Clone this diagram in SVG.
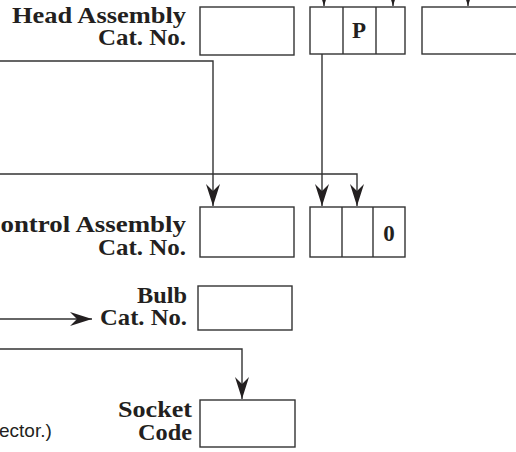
<svg xmlns="http://www.w3.org/2000/svg" width="516" height="452" viewBox="0 0 516 452">
<style>
.box{fill:#fff;stroke:#333;stroke-width:1.4}
.ln{fill:none;stroke:#333;stroke-width:1.4}
.lbl{font-family:"Liberation Serif","Times New Roman",serif;font-weight:bold;font-size:24px;fill:#231f20;text-anchor:end}
.cell{font-family:"Liberation Serif","Times New Roman",serif;font-weight:bold;font-size:23px;fill:#231f20;text-anchor:middle}
.note{font-family:"Liberation Sans",Arial,sans-serif;font-size:19px;fill:#231f20}
</style>
<defs>
<marker id="ah" markerUnits="userSpaceOnUse" markerWidth="24" markerHeight="16" viewBox="-23 -8 24 16" refX="0" refY="0" orient="auto">
<path d="M0,0 L-22,-7 L-15,0 L-22,7 Z" fill="#231f20"/>
</marker>
</defs>
<g id="connectors">
<path class="ln" d="M324,-20 V6" marker-end="url(#ah)"/>
<path class="ln" d="M393,-20 V6" marker-end="url(#ah)"/>
<path class="ln" d="M468,-20 V6" marker-end="url(#ah)"/>
<path class="ln" d="M0,61 H213 V206" marker-end="url(#ah)"/>
<path class="ln" d="M322,54 V206" marker-end="url(#ah)"/>
<path class="ln" d="M0,174 H357 V206" marker-end="url(#ah)"/>
<path class="ln" d="M0,319 H92" marker-end="url(#ah)"/>
<path class="ln" d="M0,349 H242 V399" marker-end="url(#ah)"/>
</g>
<g id="head-assembly">
<text class="lbl" x="186" y="23" textLength="174" lengthAdjust="spacingAndGlyphs">Head Assembly</text>
<text class="lbl" x="186" y="45" textLength="88" lengthAdjust="spacingAndGlyphs">Cat. No.</text>
<rect class="box" x="200" y="7" width="94" height="48"/>
</g>
<g id="head-code">
<rect class="box" x="310" y="7" width="95" height="47"/>
<line class="ln" x1="343" y1="7" x2="343" y2="54"/>
<line class="ln" x1="376" y1="7" x2="376" y2="54"/>
<text class="cell" x="359" y="38">P</text>
</g>
<g id="head-right">
<rect class="box" x="422" y="7" width="110" height="47"/>
</g>
<g id="control-assembly">
<text class="lbl" x="186" y="232" textLength="205" lengthAdjust="spacingAndGlyphs">Control Assembly</text>
<text class="lbl" x="186" y="255" textLength="88" lengthAdjust="spacingAndGlyphs">Cat. No.</text>
<rect class="box" x="200" y="207" width="94" height="50"/>
</g>
<g id="control-code">
<rect class="box" x="310" y="207" width="95" height="50"/>
<line class="ln" x1="342" y1="207" x2="342" y2="257"/>
<line class="ln" x1="373" y1="207" x2="373" y2="257"/>
<text class="cell" x="389" y="241">0</text>
</g>
<g id="bulb">
<text class="lbl" x="187" y="303" textLength="50" lengthAdjust="spacingAndGlyphs">Bulb</text>
<text class="lbl" x="187" y="325" textLength="87" lengthAdjust="spacingAndGlyphs">Cat. No.</text>
<rect class="box" x="198" y="286" width="94" height="44"/>
</g>
<g id="socket">
<text class="lbl" x="192" y="417" textLength="74" lengthAdjust="spacingAndGlyphs">Socket</text>
<text class="lbl" x="192" y="440" textLength="54" lengthAdjust="spacingAndGlyphs">Code</text>
<rect class="box" x="200" y="400" width="95" height="47"/>
</g>
<text class="note" x="-1" y="437">ector.)</text>
</svg>
